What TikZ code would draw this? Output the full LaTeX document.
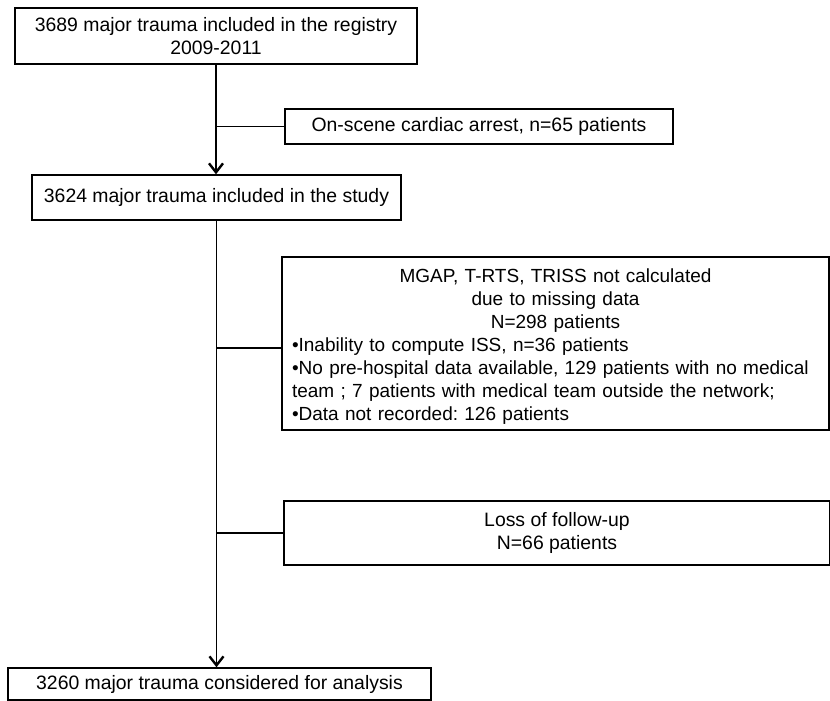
\documentclass[tikz,border=0pt]{standalone}
\usepackage{fontspec}
\setmainfont{Liberation Sans}
\usetikzlibrary{arrows.meta}
\begin{document}
\frenchspacing
\begin{tikzpicture}[x=1pt,y=-1pt,
  box/.style={draw, line width=1.4pt, inner sep=0pt, font=\fontsize{19.4}{23}\selectfont, align=center},
  conn/.style={line width=1.1pt},
  arr/.style={conn, -{Straight Barb[length=9pt,width=14pt,line width=2.4pt]}}]
\useasboundingbox (0,0) rectangle (830,701);
\node[box, minimum width=402pt, minimum height=56pt] (reg) at (216,36) {3689 major trauma included in the registry\\2009-2011};
\node[box, minimum width=388pt, minimum height=35pt] (onscene) at (479,126.5) {On-scene cardiac arrest, n=65 patients};
\node[box, minimum width=369pt, minimum height=45pt] (study) at (216.5,197.5) {3624 major trauma included in the study};
\node[box, minimum width=547pt, minimum height=173pt] (mgap) at (555.5,343.5) {};
\node[inner sep=0pt, text width=535pt, align=left, font=\fontsize{19}{23}\selectfont] (mgaptext) at (555.5,347)
 {{\centering MGAP, T-RTS, TRISS not calculated\\ due to missing data\\ N=298 patients\par}
  \raggedright\leftskip=4pt •Inability to compute ISS, n=36 patients\\
  •No pre-hospital data available, 129 patients with no medical\\
  team ; 7 patients with medical team outside the network;\\
  •Data not recorded: 126 patients\par};
\node[box, minimum width=546pt, minimum height=64pt] (loss) at (557,533) {Loss of follow-up\\N=66 patients};
\node[box, minimum width=423pt, minimum height=32pt] (final) at (219.5,684) {3260 major trauma considered for analysis};
\draw[arr] (reg.south) -- (reg.south |- study.north);
\draw[arr] (study.south) -- (study.south |- final.north);
\coordinate (b1) at (reg.south |- onscene.west);
\coordinate (b2) at (217,348);
\coordinate (b3) at (study.south |- loss.west);
\draw[conn] (b1) -- (onscene.west);
\draw[conn] (b2) -- (b2 -| mgap.west);
\draw[conn] (b3) -- (loss.west);
\end{tikzpicture}
\end{document}
